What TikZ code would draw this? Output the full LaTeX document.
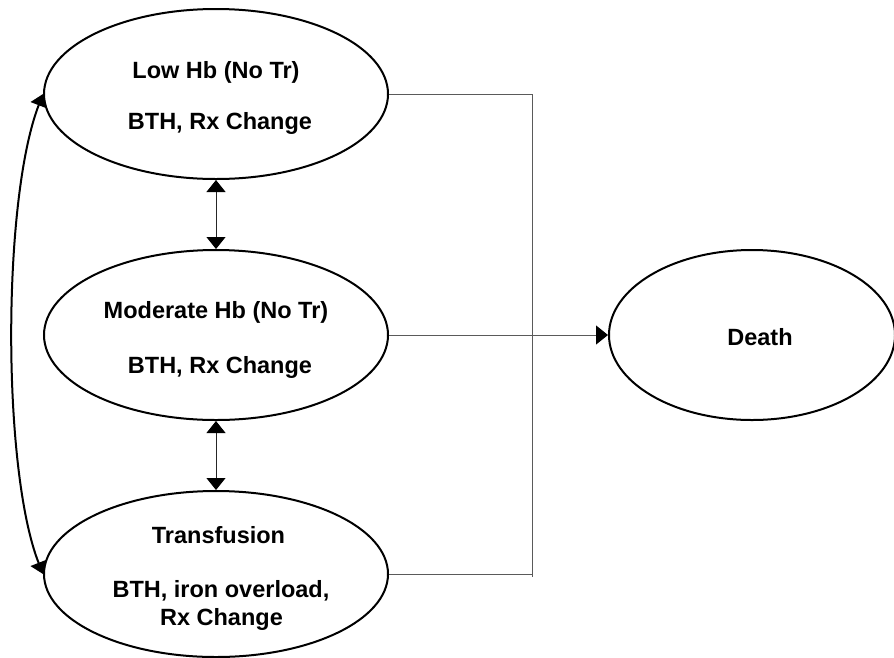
\documentclass[tikz,border=0pt]{standalone}
\usepackage{fontspec}
\setmainfont{Liberation Sans}
\usetikzlibrary{arrows.meta,shapes.geometric}
\definecolor{conngray}{RGB}{90,90,90}
\begin{document}
\begin{tikzpicture}[x=1pt,y=-1pt,
  stateell/.style={ellipse,draw=black,line width=2pt,inner sep=0pt,minimum width=344pt,minimum height=170pt},
  lbl/.style={font=\fontsize{23.5}{28}\selectfont\bfseries,inner sep=0pt,align=center},
  conn/.style={draw=conngray,line width=1pt},
  vconn/.style={draw=black!85,line width=1pt,{Triangle[length=12pt,width=19pt,color=black]}-{Triangle[length=12pt,width=19pt,color=black]}},
  curveconn/.style={draw=black,line width=2pt,{Triangle[length=12pt,width=17pt,color=black]}-{Triangle[length=12pt,width=17pt,color=black]}}
]
\useasboundingbox (0,0) rectangle (894,657);
\fill[white] (0,0) rectangle (894,657);

\node[stateell] (low) at (216,94) {};
\node[stateell] (mod) at (216,335) {};
\node[stateell,minimum height=166pt] (trans) at (216,574) {};
\node[stateell,minimum width=286pt] (death) at (752,335) {};

\node[lbl] (lowa) at (216,72) {Low Hb (No Tr)};
\node[lbl] (lowb) at (220,123) {BTH, Rx Change};
\node[lbl] (moda) at (216,312) {Moderate Hb (No Tr)};
\node[lbl] (modb) at (220,367) {BTH, Rx Change};
\node[lbl] (transa) at (218.5,535) {Transfusion};
\node[lbl] (transb) at (221,591) {BTH, iron overload,};
\node[lbl] (transc) at (221.5,619) {Rx Change};
\node[lbl] (deatha) at (760,337) {Death};

\coordinate (jt) at (532,94);
\coordinate (jb) at (532,577);

\draw[conn] (low.east) -- (jt) -- (jb);
\draw[conn] (trans.east) -- (trans.east -| jt);
\draw[conn,-{Triangle[length=12pt,width=19pt,color=black]}] (mod.east) -- (death.west);

\draw[vconn] (low.south) -- (mod.north);
\draw[vconn] (mod.south) -- (trans.north);

\draw[curveconn] (trans.west) .. controls (2,470) and (2,200) .. (low.west);
\end{tikzpicture}
\end{document}
